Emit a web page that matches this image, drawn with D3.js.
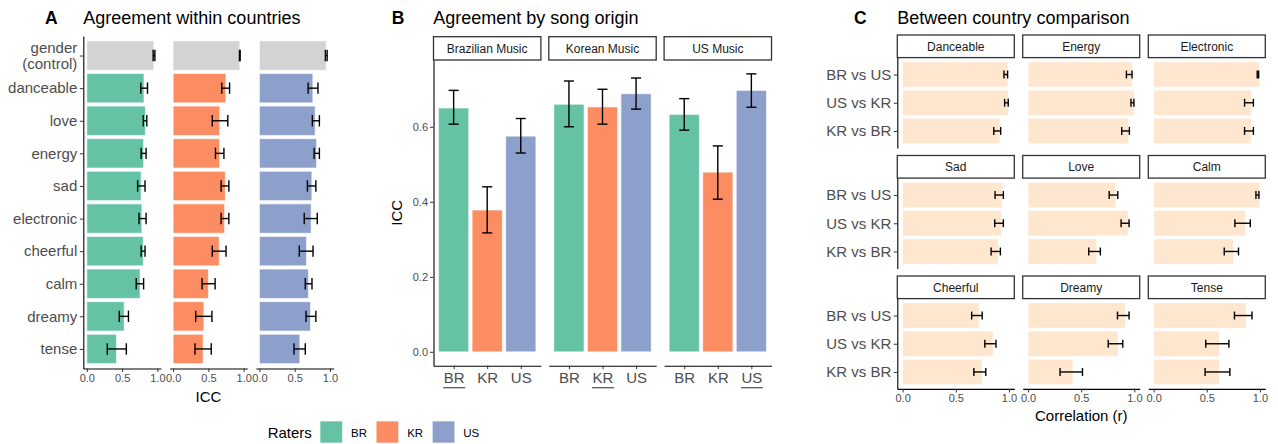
<!DOCTYPE html>
<html>
<head>
<meta charset="utf-8">
<script src="https://cdn.jsdelivr.net/npm/d3@7"></script>
<style>
  body { margin: 0; background: #fff; }
  svg text { font-family: "Liberation Sans", Arial, Helvetica, sans-serif; }
</style>
</head>
<body>
<svg id="chart" width="1278" height="444"></svg>
<script>
// ---------- data ----------
const raters = ["BR", "KR", "US"];
const raterColors = ["#66c2a5", "#fc8d62", "#8da0cb"];
const controlColor = "#d3d3d3";

// A: ICC within each rater country
const traits = ["gender (control)", "danceable", "love", "energy", "sad",
                "electronic", "cheerful", "calm", "dreamy", "tense"];
const iccBR   = [0.950, 0.810, 0.830, 0.805, 0.770, 0.780, 0.800, 0.755, 0.530, 0.420];
const iccBRLo = [0.940, 0.765, 0.800, 0.770, 0.720, 0.740, 0.770, 0.700, 0.460, 0.290];
const iccBRHi = [0.965, 0.860, 0.850, 0.840, 0.825, 0.840, 0.825, 0.805, 0.590, 0.560];
const iccKR   = [0.945, 0.748, 0.660, 0.660, 0.740, 0.730, 0.653, 0.500, 0.435, 0.425];
const iccKRLo = [0.940, 0.690, 0.555, 0.600, 0.680, 0.680, 0.555, 0.410, 0.320, 0.310];
const iccKRHi = [0.950, 0.800, 0.775, 0.720, 0.790, 0.790, 0.750, 0.595, 0.550, 0.540];
const iccUS   = [0.946, 0.757, 0.790, 0.810, 0.743, 0.733, 0.667, 0.695, 0.724, 0.573];
const iccUSLo = [0.935, 0.690, 0.750, 0.775, 0.680, 0.635, 0.565, 0.650, 0.660, 0.490];
const iccUSHi = [0.960, 0.830, 0.850, 0.850, 0.800, 0.820, 0.760, 0.745, 0.800, 0.650];

// B: ICC by song origin (one array per rater group, ordered by origin)
const origins = ["Brazilian Music", "Korean Music", "US Music"];
const originBR   = [0.650, 0.660, 0.633];
const originBRLo = [0.607, 0.600, 0.591];
const originBRHi = [0.697, 0.722, 0.675];
const originKR   = [0.378, 0.653, 0.479];
const originKRLo = [0.317, 0.607, 0.407];
const originKRHi = [0.440, 0.700, 0.549];
const originUS   = [0.575, 0.688, 0.697];
const originUSLo = [0.530, 0.647, 0.652];
const originUSHi = [0.622, 0.730, 0.741];

// C: between-country correlations per trait
const cTraits = ["Danceable", "Energy", "Electronic", "Sad", "Love", "Calm",
                 "Cheerful", "Dreamy", "Tense"];
const pairs = ["BR vs US", "US vs KR", "KR vs BR"];
const corrBRUS   = [0.990, 0.980, 0.998, 0.937, 0.825, 0.998, 0.720, 0.916, 0.869];
const corrBRUSLo = [0.953, 0.925, 0.974, 0.869, 0.763, 0.962, 0.649, 0.841, 0.760];
const corrBRUSHi = [0.987, 0.978, 0.987, 0.947, 0.844, 0.990, 0.748, 0.950, 0.925];
const corrUSKR   = [0.995, 0.998, 0.919, 0.931, 0.940, 0.863, 0.850, 0.847, 0.618];
const corrUSKRLo = [0.959, 0.968, 0.855, 0.866, 0.875, 0.764, 0.773, 0.754, 0.490];
const corrUSKRHi = [0.993, 0.996, 0.938, 0.947, 0.950, 0.909, 0.878, 0.891, 0.708];
const corrKRBR   = [0.916, 0.947, 0.919, 0.900, 0.645, 0.751, 0.748, 0.422, 0.618];
const corrKRBRLo = [0.857, 0.881, 0.855, 0.832, 0.571, 0.664, 0.670, 0.301, 0.484];
const corrKRBRHi = [0.922, 0.953, 0.938, 0.919, 0.680, 0.798, 0.782, 0.512, 0.717];
const corrFill = "#fee6cf";

// ---------- helpers ----------
const svg = d3.select("#chart");
const tickGrey = "#4d4d4d";

function styleAxis(g, fontSize) {
  g.select(".domain").attr("stroke", "#000").attr("stroke-width", 1.1);
  g.selectAll(".tick line").attr("stroke", "#333").attr("stroke-width", 1);
  g.selectAll(".tick text").attr("fill", tickGrey).attr("font-size", fontSize + "px")
    .attr("font-family", "Liberation Sans, Arial, sans-serif");
}

function errH(g, x, yc, lo, hi, half) {
  const p = g.append("g").attr("stroke", "#000").attr("stroke-width", 1.4).attr("fill", "none");
  p.append("line").attr("x1", x(lo)).attr("x2", x(hi)).attr("y1", yc).attr("y2", yc);
  p.append("line").attr("x1", x(lo)).attr("x2", x(lo)).attr("y1", yc - half).attr("y2", yc + half);
  p.append("line").attr("x1", x(hi)).attr("x2", x(hi)).attr("y1", yc - half).attr("y2", yc + half);
}

function errV(g, xc, y, lo, hi, half) {
  const p = g.append("g").attr("stroke", "#000").attr("stroke-width", 1.4).attr("fill", "none");
  p.append("line").attr("x1", xc).attr("x2", xc).attr("y1", y(lo)).attr("y2", y(hi));
  p.append("line").attr("x1", xc - half).attr("x2", xc + half).attr("y1", y(lo)).attr("y2", y(lo));
  p.append("line").attr("x1", xc - half).attr("x2", xc + half).attr("y1", y(hi)).attr("y2", y(hi));
}

function strip(x, y, w, h, label) {
  svg.append("rect").attr("x", x).attr("y", y).attr("width", w).attr("height", h)
    .attr("fill", "#fff").attr("stroke", "#333").attr("stroke-width", 1.3);
  svg.append("text").attr("x", x + w / 2).attr("y", y + h / 2 + 4.3)
    .attr("text-anchor", "middle").attr("font-size", "12px").attr("fill", "#1a1a1a").text(label);
}

function panelTitle(x, letter, tx, title) {
  svg.append("text").attr("x", x).attr("y", 24).attr("font-size", "17.5px")
    .attr("font-weight", "bold").attr("fill", "#000").text(letter);
  svg.append("text").attr("x", tx).attr("y", 24).attr("font-size", "18px")
    .attr("fill", "#000").text(title);
}

// ---------- A: agreement within countries ----------
panelTitle(45, "A", 83.3, "Agreement within countries");
{
  const top = 36, bottom = 368.5, colW = 77.6;
  const colX = [83.3, 169.6, 255.9];
  const vals = [[iccBR, iccBRLo, iccBRHi], [iccKR, iccKRLo, iccKRHi], [iccUS, iccUSLo, iccUSHi]];
  const y = d3.scalePoint().domain(traits).range([top, bottom]).padding(0.6);
  const step = y.step();
  raters.forEach((r, i) => {
    const x = d3.scaleLinear().domain([-0.05, 1.05]).range([colX[i], colX[i] + colW]);
    const g = svg.append("g");
    const [v, lo, hi] = vals[i];
    g.selectAll("rect").data(traits).join("rect")
      .attr("x", x(0))
      .attr("y", d => y(d) - 0.45 * step)
      .attr("width", (d, k) => x(v[k]) - x(0))
      .attr("height", 0.9 * step)
      .attr("fill", (d, k) => k === 0 ? controlColor : raterColors[i])
      .attr("stroke", "#fff").attr("stroke-opacity", 0.6).attr("stroke-width", 1);
    traits.forEach((t, k) => errH(g, x, y(t), lo[k], hi[k], 0.175 * step));
    const ax = svg.append("g").attr("transform", `translate(0,${bottom})`)
      .call(d3.axisBottom(x).tickValues([0, 0.5, 1]).tickFormat(d3.format(".1f"))
        .tickSizeInner(3.5).tickSizeOuter(0).tickPadding(2));
    styleAxis(ax, 11);
  });
  const ay = svg.append("g").attr("transform", `translate(${colX[0]},0)`)
    .call(d3.axisLeft(y).tickSizeInner(3.5).tickSizeOuter(0).tickPadding(2.5));
  styleAxis(ay, 15);
  ay.selectAll(".tick text").filter(d => d.includes("(")).each(function (d) {
    const t = d3.select(this);
    const parts = d.split(" ");
    t.text(null);
    t.append("tspan").attr("x", -6).attr("dy", "-0.18em").text(parts[0]);
    t.append("tspan").attr("x", -6).attr("dy", "1.05em").text(parts[1]);
  });
  svg.append("text").attr("x", (colX[0] + colX[2] + colW) / 2).attr("y", 401.5)
    .attr("text-anchor", "middle").attr("font-size", "15px").attr("fill", "#000").text("ICC");
}

// ---------- B: agreement by song origin ----------
panelTitle(391.7, "B", 433.3, "Agreement by song origin");
{
  const top = 60, bottom = 365.7, w = 107.4;
  const x0s = [433.5, 548.8, 664.1];
  const vals = [[originBR, originBRLo, originBRHi], [originKR, originKRLo, originKRHi],
                [originUS, originUSLo, originUSHi]];
  const y = d3.scaleLinear().domain([-0.037, 0.778]).range([bottom, top]);
  origins.forEach((o, j) => {
    strip(x0s[j], 36.7, w, 23.3, o);
    const x = d3.scalePoint().domain(raters).range([x0s[j], x0s[j] + w]).padding(0.6);
    const step = x.step();
    const g = svg.append("g");
    raters.forEach((r, i) => {
      g.append("rect")
        .attr("x", x(r) - 0.45 * step).attr("width", 0.9 * step)
        .attr("y", y(vals[i][0][j])).attr("height", y(0) - y(vals[i][0][j]))
        .attr("fill", raterColors[i])
        .attr("stroke", "#fff").attr("stroke-opacity", 0.6).attr("stroke-width", 1);
      errV(g, x(r), y, vals[i][1][j], vals[i][2][j], 0.15 * step);
    });
    const ax = svg.append("g").attr("transform", `translate(0,${bottom})`)
      .call(d3.axisBottom(x).tickSizeInner(3.5).tickSizeOuter(0).tickPadding(3));
    styleAxis(ax, 15);
    // underline the raters from the same country as the music
    ax.selectAll(".tick").filter(d => d === raters[j]).each(function () {
      const bb = d3.select(this).select("text").node().getBBox();
      d3.select(this).append("line")
        .attr("x1", bb.x - 0.5).attr("x2", bb.x + bb.width + 0.5)
        .attr("y1", 22).attr("y2", 22)
        .attr("stroke", tickGrey).attr("stroke-width", 1.2);
    });
  });
  const ay = svg.append("g").attr("transform", `translate(${x0s[0]},0)`)
    .call(d3.axisLeft(y).tickValues([0, 0.2, 0.4, 0.6]).tickFormat(d3.format(".1f"))
      .tickSizeInner(3.5).tickSizeOuter(0).tickPadding(2));
  styleAxis(ay, 11);
  svg.append("text").attr("transform", `translate(402,${(top + bottom) / 2}) rotate(-90)`)
    .attr("text-anchor", "middle").attr("font-size", "15px").attr("fill", "#000").text("ICC");
}

// ---------- C: between country comparison ----------
panelTitle(854, "C", 897.3, "Between country comparison");
{
  const colX = [897.3, 1022.7, 1148.3], colW = 117;
  const stripTop = [35, 155.5, 276], stripH = 22.6, panelH = 90.3;
  const series = [[corrBRUS, corrBRUSLo, corrBRUSHi], [corrUSKR, corrUSKRLo, corrUSKRHi],
                  [corrKRBR, corrKRBRLo, corrKRBRHi]];
  cTraits.forEach((t, k) => {
    const col = k % 3, row = Math.floor(k / 3);
    const top = stripTop[row] + stripH, bottom = top + panelH;
    strip(colX[col], stripTop[row], colW, stripH, t);
    const x = d3.scaleLinear().domain([-0.05, 1.05]).range([colX[col], colX[col] + colW]);
    const y = d3.scalePoint().domain(pairs).range([top, bottom]).padding(0.6);
    const step = y.step();
    const g = svg.append("g");
    pairs.forEach((p, i) => {
      const v = series[i][0][k];
      g.append("rect")
        .attr("x", x(0)).attr("width", x(v) - x(0))
        .attr("y", y(p) - 0.45 * step).attr("height", 0.9 * step)
        .attr("fill", corrFill)
        .attr("stroke", "#fff").attr("stroke-opacity", 0.6).attr("stroke-width", 1);
      errH(g, x, y(p), series[i][1][k], series[i][2][k], 0.14 * step);
    });
    if (col === 0) {
      const ay = svg.append("g").attr("transform", `translate(${colX[0]},0)`)
        .call(d3.axisLeft(y).tickSizeInner(3.5).tickSizeOuter(0).tickPadding(2.5));
      styleAxis(ay, 15);
    }
    if (row === 2) {
      const ax = svg.append("g").attr("transform", `translate(0,${bottom})`)
        .call(d3.axisBottom(x).tickValues([0, 0.5, 1]).tickFormat(d3.format(".1f"))
          .tickSizeInner(3.5).tickSizeOuter(0).tickPadding(2));
      styleAxis(ax, 11);
    }
  });
  svg.append("text").attr("x", (colX[0] + colX[2] + colW) / 2).attr("y", 421)
    .attr("text-anchor", "middle").attr("font-size", "15px").attr("fill", "#000")
    .text("Correlation (r)");
}

// ---------- legend ----------
{
  const lg = svg.append("g");
  lg.append("text").attr("x", 267.7).attr("y", 437.5).attr("font-size", "15px")
    .attr("fill", "#000").text("Raters");
  const keyX = d3.scalePoint().domain(raters).range([320, 432.3]);
  raters.forEach((r, i) => {
    lg.append("rect").attr("x", keyX(r)).attr("y", 421).attr("width", 22.5).attr("height", 22)
      .attr("fill", raterColors[i]).attr("stroke", "#fff").attr("stroke-opacity", 0.6);
    lg.append("text").attr("x", keyX(r) + 31).attr("y", 436.5).attr("font-size", "11.5px")
      .attr("fill", "#000").text(r);
  });
}
</script>
</body>
</html>
